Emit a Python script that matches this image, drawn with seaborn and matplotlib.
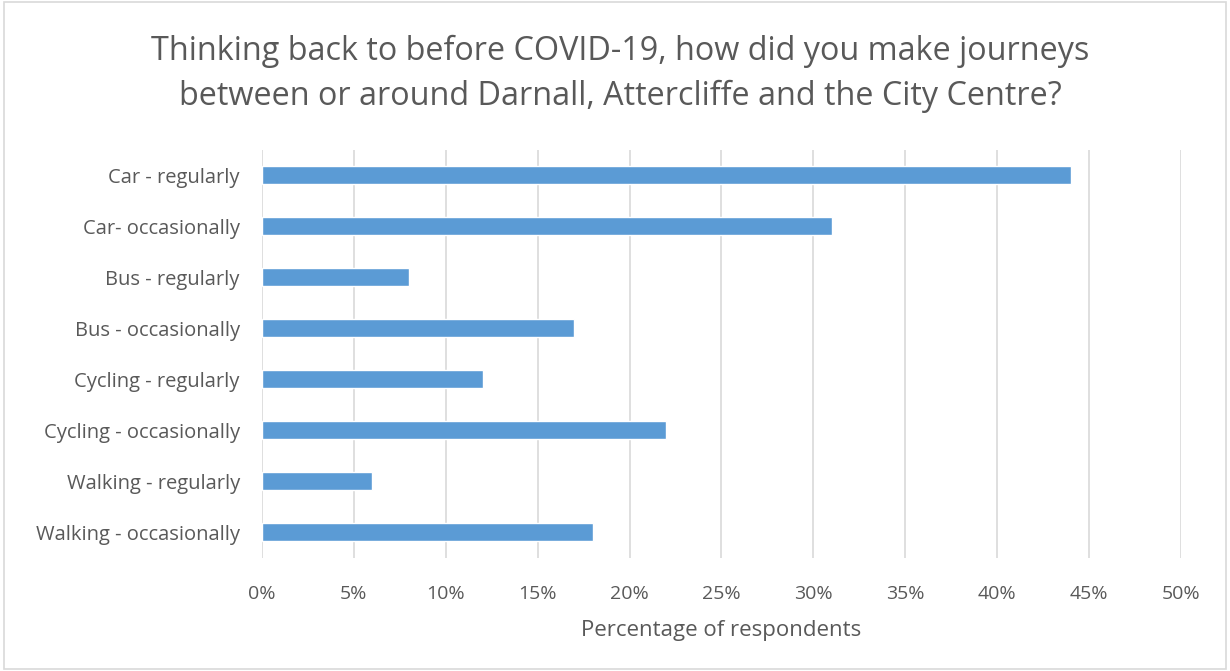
import matplotlib
matplotlib.use("Agg")
import matplotlib.pyplot as plt
import matplotlib.ticker as mtick
import seaborn as sns
import pandas as pd

sns.set_theme(style="white")
plt.rcParams["font.family"] = ["Open Sans", "DejaVu Sans"]

# ── Data ───────────────────────────────────────────────
categories = [
    "Car - regularly",
    "Car- occasionally",
    "Bus - regularly",
    "Bus - occasionally",
    "Cycling - regularly",
    "Cycling - occasionally",
    "Walking - regularly",
    "Walking - occasionally",
]
percentages = [44, 31, 8, 17, 12, 22, 6, 18]
x_ticks = [0, 5, 10, 15, 20, 25, 30, 35, 40, 45, 50]

df = pd.DataFrame({"mode": categories, "pct": percentages})

text_col = "#595959"
bar_col = "#5B9BD5"
grid_col = "#D9D9D9"

# ── Plot ───────────────────────────────────────────────
fig = plt.figure(figsize=(12.3, 6.71), dpi=100)
ax = fig.add_axes([0.213, 0.169, 0.747, 0.608])

sns.barplot(data=df, y="mode", x="pct", color=bar_col, width=0.34,
            saturation=1, ax=ax, zorder=3)

ax.set_xlim(0, 50)
ax.set_ylim(7.5, -0.5)
ax.set_xticks(x_ticks)
ax.xaxis.set_major_formatter(mtick.FuncFormatter(lambda v, _: f"{v:.0f}%"))
ax.grid(axis="x", color=grid_col, linewidth=1.2, zorder=0)
ax.grid(axis="y", visible=False)
for s in ax.spines.values():
    s.set_visible(False)

ax.tick_params(axis="x", length=0, labelsize=14, colors=text_col, pad=20)
ax.tick_params(axis="y", length=0, labelsize=14.5, colors=text_col, pad=16)
ax.set_ylabel("")
ax.set_xlabel("Percentage of respondents", fontsize=16, color=text_col, labelpad=12)

fig.text(0.504, 0.890,
         "Thinking back to before COVID-19, how did you make journeys\n"
         "between or around Darnall, Attercliffe and the City Centre?",
         ha="center", va="center", fontsize=23.3, color=text_col, linespacing=1.5)

# chart border
border = plt.Rectangle((0.003, 0.003), 0.994, 0.994, transform=fig.transFigure,
                       fill=False, edgecolor=grid_col, linewidth=1.2)
fig.add_artist(border)

fig.savefig("out.png", dpi=100, facecolor="white")
